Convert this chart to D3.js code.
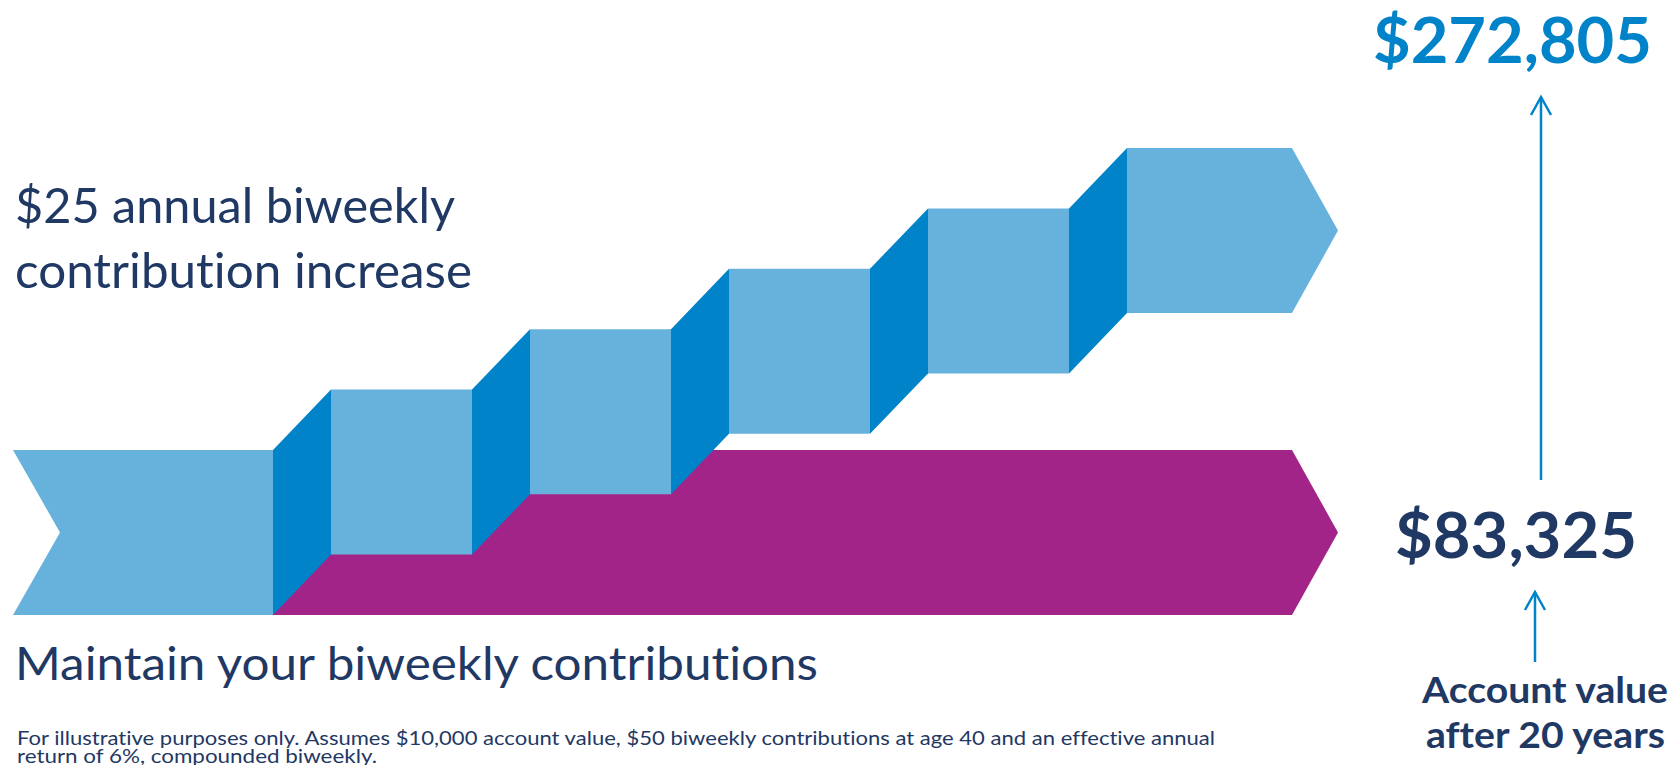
<!DOCTYPE html>
<html>
<head>
<meta charset="utf-8">
<script src="https://cdn.jsdelivr.net/npm/d3@7"></script>
<style>
  html, body { margin: 0; padding: 0; background: #fff; }
  svg { display: block; font-family: Lato, "Open Sans", sans-serif; font-variant-ligatures: none; }
</style>
</head>
<body>
<div id="chart"></div>
<script>
// Biweekly contribution staircase vs. flat contributions, with end values.
const years = [0, 1, 2, 3, 4, 5];                  // ribbon segments (annual steps)
const stepContrib = [50, 75, 100, 125, 150, 175];   // biweekly contribution, $25/yr increase
const flatContrib = 50;                              // maintained biweekly contribution
const endValues = ["$272,805", "$83,325"];           // account value after 20 years
const labels = {
  step: ["$25 annual biweekly", "contribution increase"],
  flat: "Maintain your biweekly contributions",
  result: ["Account value", "after 20 years"],
  note: ["For illustrative purposes only. Assumes $10,000 account value, $50 biweekly contributions at age 40 and an effective annual",
         "return of 6%, compounded biweekly."]
};

const W = 1679, H = 765;
const LIGHT = "#67b2dc", DARK = "#0083c8", PURPLE = "#a32489", NAVY = "#1f3864";
const BAND = 165, FOLD = 58, LEFT = 13, RIGHT = 1292, TIP = 46, NOTCH = 47;

const svg = d3.select("#chart").append("svg").attr("width", W).attr("height", H);

// level -> top edge of the ribbon; year -> x where the fold into that year starts
const y = d3.scaleLinear([50, 175], [450, 148]);
const x = d3.scaleLinear([1, 5], [273, 1069]);

// flat purple ribbon sits behind the staircase
const fTop = y(flatContrib), fBot = fTop + BAND;
svg.append("polygon").attr("fill", PURPLE)
  .attr("points", [[x(1), fTop], [RIGHT, fTop], [RIGHT + TIP, (fTop + fBot) / 2], [RIGHT, fBot], [x(1), fBot]].join(" "));

// staircase: flat segments + dark folds between them
const segs = years.map((yr, i) => {
  const x0 = i === 0 ? LEFT : x(yr) + FOLD;
  const x1 = i === years.length - 1 ? RIGHT : x(years[i + 1]);
  return { i, x0, x1, top: y(stepContrib[i]), bot: y(stepContrib[i]) + BAND };
});
const last = segs.length - 1;
svg.append("g").selectAll("polygon").data(segs).join("polygon")
  .attr("fill", LIGHT)
  .attr("points", (s) => {
    const mid = (s.top + s.bot) / 2;
    const pts = [[s.x0, s.top], [s.x1, s.top]];
    if (s.i === last) pts.push([s.x1 + TIP, mid]);
    pts.push([s.x1, s.bot], [s.x0, s.bot]);
    if (s.i === 0) pts.push([s.x0 + NOTCH, mid]);
    return pts.join(" ");
  });
svg.append("g").selectAll("polygon").data(segs.slice(1)).join("polygon")
  .attr("fill", DARK)
  .attr("points", (s) => {
    const p = segs[s.i - 1];
    return [[p.x1, p.top], [s.x0, s.top], [s.x0, s.bot], [p.x1, p.bot]].join(" ");
  });

// text helper: size from cap height, width pinned with textLength
function label(tx, ty, str, size, width, opts = {}) {
  const t = svg.append("text").attr("x", tx).attr("y", ty).text(str)
    .attr("font-size", size).attr("fill", opts.fill || NAVY)
    .attr("font-weight", opts.bold ? 700 : 400);
  if (width) t.attr("textLength", width).attr("lengthAdjust", "spacingAndGlyphs");
  return t;
}

label(15, 223, labels.step[0], 49, 440);
label(15, 288, labels.step[1], 49, 457);
label(15, 680, labels.flat, 46, 803);
label(17, 745, labels.note[0], 20, 1198);
label(17, 763, labels.note[1], 20, 360);

label(1373, 63, endValues[0], 63, 279, { bold: true, fill: DARK });
label(1395, 558, endValues[1], 63, 242, { bold: true });
label(1422, 703, labels.result[0], 36, 246, { bold: true });
label(1426, 748, labels.result[1], 36, 239, { bold: true });

// arrows pointing up at the end values
function arrow(ax, y0, y1) {
  const g = svg.append("g").attr("stroke", DARK).attr("stroke-width", 2.5).attr("fill", "none");
  g.append("line").attr("x1", ax).attr("x2", ax).attr("y1", y0).attr("y2", y1);
  g.append("polyline").attr("points", [[ax - 10, y1 + 18], [ax, y1], [ax + 10, y1 + 18]].join(" "));
}
arrow(1541, 480, 97);
arrow(1535, 662, 592);
</script>
</body>
</html>
